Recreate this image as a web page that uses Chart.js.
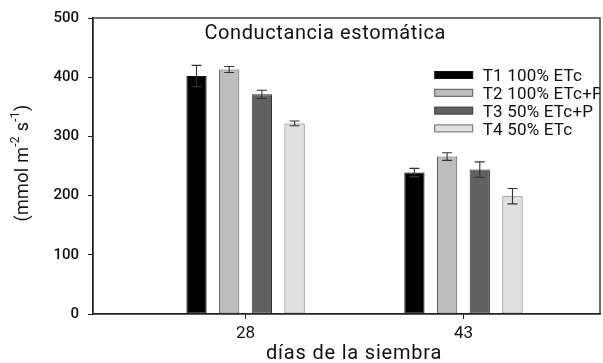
<!DOCTYPE html>
<html>
<head>
<meta charset="utf-8">
<script src="https://cdn.jsdelivr.net/npm/chart.js@4.4.1/dist/chart.umd.min.js"></script>
<style>
  html, body { margin: 0; padding: 0; background: #fff; }
  #wrap { width: 603px; height: 363px; }
</style>
</head>
<body>
<div id="wrap"><canvas id="c" width="603" height="363"></canvas></div>
<script>
// ---- data ----
const days = [28, 43];
const seriesNames = ['T1 100% ETc', 'T2 100% ETc+P', 'T3 50% ETc+P', 'T4 50% ETc'];
const t1 = [402, 239];
const t2 = [413, 266];
const t3 = [371, 244];
const t4 = [322, 199];
const t1Err = [18, 7];
const t2Err = [5, 6.5];
const t3Err = [7, 13];
const t4Err = [4, 13];
const yTicks = [0, 100, 200, 300, 400, 500];
const chartTitle = 'Conductancia estomática';
const xTitle = 'días de la siembra';
const yTitleParts = [['(mmol m', false], ['-2', true], [' s', false], ['-1', true], [')', false]];

const fills = ['#000000', '#bdbdbd', '#616161', '#e0e0e0'];
const borders = ['#111111', '#555555', '#333333', '#6a6a6a'];
const values = [t1, t2, t3, t4];
const errs = [t1Err, t2Err, t3Err, t4Err];
const FONT = 'Roboto, "Liberation Sans", Arial, sans-serif';

const datasets = values.map((v, i) => ({
  label: seriesNames[i],
  data: days.map((d, j) => ({ x: d, y: v[j] })),
  err: errs[i],
  backgroundColor: fills[i],
  borderColor: borders[i],
  borderWidth: 1,
  borderSkipped: false,
  categoryPercentage: 0.6,
  barPercentage: 0.62
}));

const framePlugin = {
  id: 'frame',
  afterDraw(chart) {
    const { ctx, chartArea: a } = chart;
    ctx.save();
    ctx.strokeStyle = '#222';
    ctx.lineWidth = 1.3;
    ctx.strokeRect(a.left, a.top, a.right - a.left, a.bottom - a.top);
    ctx.restore();
  }
};

const errPlugin = {
  id: 'errbars',
  afterDatasetsDraw(chart) {
    const { ctx } = chart;
    const ys = chart.scales.y;
    ctx.save();
    ctx.strokeStyle = '#333';
    ctx.lineWidth = 1.1;
    chart.data.datasets.forEach((ds, i) => {
      const meta = chart.getDatasetMeta(i);
      meta.data.forEach((bar, j) => {
        const v = ds.data[j].y, e = ds.err[j];
        const x = bar.x;
        const yTop = ys.getPixelForValue(v + e);
        const yBot = ys.getPixelForValue(v - e);
        const cap = 5;
        ctx.beginPath();
        ctx.moveTo(x, yTop); ctx.lineTo(x, yBot);
        ctx.moveTo(x - cap, yTop); ctx.lineTo(x + cap, yTop);
        ctx.moveTo(x - cap, yBot); ctx.lineTo(x + cap, yBot);
        ctx.stroke();
      });
    });
    ctx.restore();
  }
};

const textPlugin = {
  id: 'texts',
  afterDraw(chart) {
    const { ctx, chartArea: a } = chart;
    const w = a.right - a.left;
    ctx.save();
    ctx.fillStyle = '#111';
    // chart title inside the plot
    ctx.font = '20px ' + FONT;
    ctx.letterSpacing = '0.6px';
    ctx.textAlign = 'center';
    ctx.textBaseline = 'alphabetic';
    ctx.fillText(chartTitle, a.left + w * 0.458, a.top + 21);
    // x axis title
    ctx.font = '20px ' + FONT;
    ctx.letterSpacing = '0.8px';
    ctx.fillText(xTitle, a.left + w * 0.515, a.bottom + 45);
    // y axis title with superscripts
    ctx.letterSpacing = '0.3px';
    ctx.save();
    ctx.translate(23, (a.top + a.bottom) / 2 - 3);
    ctx.rotate(-Math.PI / 2);
    const mainF = '18px ' + FONT, supF = '12px ' + FONT;
    let total = 0;
    yTitleParts.forEach(([t, sup]) => { ctx.font = sup ? supF : mainF; total += ctx.measureText(t).width; });
    let x = -total / 2;
    ctx.textAlign = 'left';
    ctx.textBaseline = 'middle';
    yTitleParts.forEach(([t, sup]) => {
      ctx.font = sup ? supF : mainF;
      ctx.fillText(t, x, sup ? -7 : 0);
      x += ctx.measureText(t).width;
    });
    ctx.restore();
    // legend inside the plot
    ctx.beginPath();
    ctx.rect(a.left, a.top, w, a.bottom - a.top);
    ctx.clip();
    ctx.font = '17px ' + FONT;
    ctx.letterSpacing = '0.2px';
    ctx.textAlign = 'left';
    ctx.textBaseline = 'middle';
    const sx = a.left + w * 0.674;
    const sw = 38, sh = 7;
    chart.data.datasets.forEach((ds, i) => {
      const cy = a.top + 57 + i * 17.8;
      ctx.fillStyle = ds.backgroundColor;
      ctx.fillRect(sx, cy - sh / 2, sw, sh);
      ctx.strokeStyle = ds.borderColor;
      ctx.lineWidth = 1;
      ctx.strokeRect(sx, cy - sh / 2, sw, sh);
      ctx.fillStyle = '#111';
      ctx.fillText(ds.label, sx + sw + 10, cy + 2);
    });
    ctx.restore();
  }
};

new Chart(document.getElementById('c'), {
  type: 'bar',
  data: { datasets },
  options: {
    responsive: false,
    animation: false,
    layout: { padding: { top: 15, right: 3, left: 0, bottom: 0 } },
    plugins: { legend: { display: false }, tooltip: { enabled: false } },
    scales: {
      x: {
        type: 'linear',
        offset: false,
        min: 17.5,
        max: 52.4,
        afterBuildTicks(s) { s.ticks = days.map(d => ({ value: d })); },
        afterFit(s) { s.height = 49; },
        grid: { offset: false, drawOnChartArea: false, drawTicks: true, tickLength: 5, color: '#222' },
        border: { display: true, color: '#222', width: 1.3 },
        ticks: { color: '#111', font: { family: FONT, size: 17 }, padding: 5 },
        title: { display: false }
      },
      y: {
        min: 0,
        max: 500,
        afterBuildTicks(s) { s.ticks = yTicks.map(v => ({ value: v })); },
        afterFit(s) { s.width = 93; },
        grid: { drawOnChartArea: false, drawTicks: true, tickLength: 5, color: '#222' },
        border: { display: true, color: '#222', width: 1.3 },
        ticks: { color: '#111', font: { family: FONT, size: 15, weight: '500' }, padding: 9 },
        title: { display: false }
      }
    }
  },
  plugins: [framePlugin, errPlugin, textPlugin]
});
</script>
</body>
</html>
